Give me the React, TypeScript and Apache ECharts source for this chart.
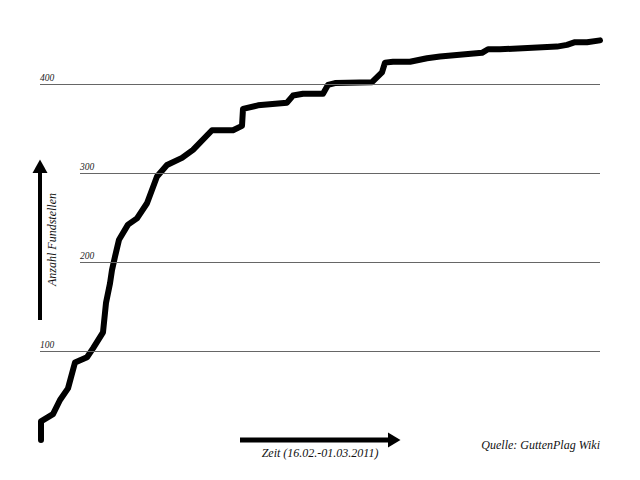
import React, { useEffect, useRef } from "react";
import * as echarts from "echarts";

// time in days since 16.02.2011
const DAYS = [
  0.025, 0.025, 0.325, 0.5, 0.7, 0.875, 1.175, 1.325, 1.575, 1.65, 1.75, 1.8,
  1.875, 1.975, 2.2, 2.425, 2.675, 2.925, 3.175, 3.55, 3.825, 4.3, 4.825, 5.05,
  5.075, 5.45, 6.175, 6.325, 6.575, 7.075, 7.2, 7.375, 8.3, 8.55, 8.625, 8.825,
  9.25, 9.675, 10.0, 11.05, 11.2, 11.5, 12.925, 13.175, 13.375, 13.675, 14.0,
];
const COUNTS = [
  0, 21, 29, 45, 58, 87, 93, 103, 121, 154, 176, 191,
  206, 225, 242, 249, 266, 296, 309, 317, 326, 348, 348, 353,
  372, 376, 379, 387, 389, 389, 399, 401, 402, 413, 424, 425,
  425, 429, 431, 435, 439, 439, 442, 444, 447, 447, 449,
];

const TICK_VALUES = [100, 200, 300, 400];
const TICK_LABELS = ["100", "200", "300", "400"];
const TICK_STARTS = [0, 1, 1, 0]; // day where each reference line starts
const X_MAX = 14;
const Y_MAX = 450;

const X_LABEL = "Zeit (16.02.-01.03.2011)";
const Y_LABEL = "Anzahl Fundstellen";
const SOURCE = "Quelle: GuttenPlag Wiki";

const FONT = "italic 12px 'Liberation Serif', 'DejaVu Serif', serif";

export default function App() {
  const ref = useRef<HTMLDivElement>(null);

  useEffect(() => {
    if (!ref.current) return;
    const chart = echarts.init(ref.current, undefined, { renderer: "svg" });
    const data = DAYS.map((d, i) => [d, COUNTS[i]]);
    const markData = TICK_VALUES.map((v, i) => [
      {
        coord: [TICK_STARTS[i], v],
        label: {
          show: true,
          formatter: TICK_LABELS[i],
          position: "insideStartTop",
          distance: [0, 1],
          fontFamily: "'Liberation Serif', serif",
          fontStyle: "italic",
          fontSize: 9.5,
          color: "#222",
        },
      },
      { coord: [X_MAX, v] },
    ]);

    chart.setOption({
      animation: false,
      backgroundColor: "#fff",
      grid: { left: 40, right: 40, top: 39.5, bottom: 40, containLabel: false },
      xAxis: {
        type: "value",
        min: 0,
        max: X_MAX,
        show: false,
      },
      yAxis: {
        type: "value",
        min: 0,
        max: Y_MAX,
        show: false,
      },
      series: [
        {
          type: "line",
          data,
          symbol: "none",
          clip: false,
          lineStyle: { color: "#000", width: 6, cap: "round", join: "round" },
          markLine: {
            silent: true,
            symbol: ["none", "none"],
            lineStyle: { color: "#666", width: 1, type: "solid" },
            data: markData,
          },
          z: 3,
        },
      ],
      graphic: [
        // y arrow
        {
          type: "line",
          shape: { x1: 40, y1: 320, x2: 40, y2: 170 },
          style: { stroke: "#000", lineWidth: 4 },
        },
        {
          type: "polygon",
          shape: { points: [[32.5, 173], [47.5, 173], [40, 159.5]] },
          style: { fill: "#000" },
        },
        {
          type: "text",
          x: 52,
          y: 239.5,
          rotation: Math.PI / 2,
          style: {
            text: Y_LABEL,
            font: FONT,
            fill: "#111",
            textAlign: "center",
            textVerticalAlign: "middle",
          },
        },
        // x arrow
        {
          type: "line",
          shape: { x1: 240, y1: 440, x2: 390, y2: 440 },
          style: { stroke: "#000", lineWidth: 5 },
        },
        {
          type: "polygon",
          shape: { points: [[388, 432.5], [388, 447.5], [400.5, 440]] },
          style: { fill: "#000" },
        },
        {
          type: "text",
          x: 320,
          y: 453,
          style: {
            text: X_LABEL,
            font: FONT,
            fill: "#111",
            textAlign: "center",
            textVerticalAlign: "middle",
          },
        },
        {
          type: "text",
          x: 600,
          y: 445,
          style: {
            text: SOURCE,
            font: FONT,
            fill: "#111",
            textAlign: "right",
            textVerticalAlign: "middle",
          },
        },
      ],
    });
    return () => chart.dispose();
  }, []);

  return (
    <div
      ref={ref}
      style={{ position: "fixed", left: 0, top: 0, width: 640, height: 480, background: "#fff" }}
    />
  );
}
